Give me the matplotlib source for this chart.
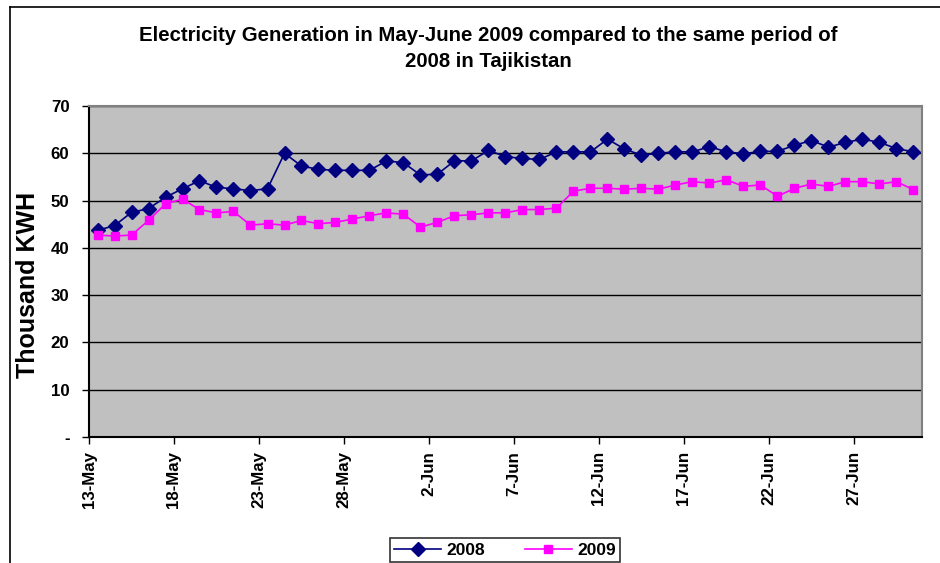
import numpy as np
import matplotlib
matplotlib.use("Agg")
import matplotlib.pyplot as plt
from matplotlib.lines import Line2D

plt.rcParams['font.family'] = ['Liberation Sans', 'DejaVu Sans']
plt.rcParams['font.weight'] = 'bold'

# one point per day, 13-May .. 30-Jun
days = ["13-May", "14-May", "15-May", "16-May", "17-May", "18-May", "19-May", "20-May",
        "21-May", "22-May", "23-May", "24-May", "25-May", "26-May", "27-May", "28-May",
        "29-May", "30-May", "31-May", "1-Jun", "2-Jun", "3-Jun", "4-Jun", "5-Jun",
        "6-Jun", "7-Jun", "8-Jun", "9-Jun", "10-Jun", "11-Jun", "12-Jun", "13-Jun",
        "14-Jun", "15-Jun", "16-Jun", "17-Jun", "18-Jun", "19-Jun", "20-Jun", "21-Jun",
        "22-Jun", "23-Jun", "24-Jun", "25-Jun", "26-Jun", "27-Jun", "28-Jun", "29-Jun",
        "30-Jun"]

gen_2008 = [43.7, 44.7, 47.5, 48.3, 50.7, 52.5, 54.2, 52.8, 52.5, 52.1,
            52.5, 60.0, 57.3, 56.6, 56.4, 56.4, 56.4, 58.4, 58.0, 55.4,
            55.6, 58.4, 58.4, 60.6, 59.3, 58.9, 58.7, 60.3, 60.3, 60.3,
            63.0, 60.9, 59.6, 60.0, 60.3, 60.3, 61.4, 60.3, 59.9, 60.4,
            60.4, 61.7, 62.7, 61.3, 62.3, 63.0, 62.3, 61.0, 60.3]

gen_2009 = [42.7, 42.5, 42.7, 45.8, 49.3, 50.3, 48.1, 47.4, 47.7, 44.8,
            45.1, 44.8, 45.8, 45.1, 45.4, 46.1, 46.8, 47.4, 47.1, 44.4,
            45.4, 46.8, 47.0, 47.4, 47.4, 48.1, 48.1, 48.4, 52.0, 52.6,
            52.6, 52.4, 52.6, 52.4, 53.3, 54.0, 53.7, 54.4, 53.0, 53.3,
            50.9, 52.6, 53.5, 53.0, 54.0, 54.0, 53.5, 54.0, 52.3]

y_ticks = [0, 10, 20, 30, 40, 50, 60, 70]
y_labels = ["-", "10", "20", "30", "40", "50", "60", "70"]

fig = plt.figure(figsize=(9.4, 5.63), dpi=100)
ax = fig.add_axes([89 / 940, 1 - 437 / 563, (922 - 89) / 940, (437 - 106) / 563])
ax.set_facecolor('#C0C0C0')

x = np.arange(len(days))
ax.plot(x, gen_2008, color='#000080', marker='D', markersize=7, linewidth=1.2, label='2008', zorder=3)
ax.plot(x, gen_2009, color='#FF00FF', marker='s', markersize=6, linewidth=1.2, label='2009', zorder=3)

ax.set_xlim(-0.5, len(days) - 0.5)
ax.set_ylim(0, 70)
ax.set_yticks(y_ticks)
ax.set_yticklabels(y_labels)
ax.set_xticks(x[::5] - 0.5)
ax.set_xticklabels(days[::5], rotation=90)
for lab in ax.get_xticklabels() + ax.get_yticklabels():
    lab.set_fontweight('bold')
    lab.set_fontsize(12.2)
ax.tick_params(axis='both', direction='out', length=5, width=1, colors='black')
ax.tick_params(axis='x', pad=5)
ax.tick_params(axis='y', pad=9)

ax.yaxis.grid(True, color='black', linewidth=1)
ax.set_axisbelow(True)
ax.spines['left'].set_color('black')
ax.spines['bottom'].set_color('black')
ax.spines['top'].set_color('#808080')
ax.spines['right'].set_color('#808080')
for s in ax.spines.values():
    s.set_linewidth(1.5)

fig.text(28.5 / 940, 1 - 285 / 563, "Thousand KWH", rotation=90, ha='center', va='center',
         fontsize=18, fontweight='bold')

fig.text(488 / 940, 1 - 48.5 / 563,
         "Electricity Generation in May-June 2009 compared to the same period of\n2008 in Tajikistan",
         ha='center', va='center', fontsize=14.7, fontweight='bold', linespacing=1.45)

leg = fig.legend(loc='center', bbox_to_anchor=(505 / 940, 1 - 550 / 563), ncol=2,
                 frameon=True, fancybox=False, edgecolor='black', fontsize=12.5,
                 handlelength=2.7, handletextpad=0.3, columnspacing=2.3, borderpad=0.25,
                 borderaxespad=0)
leg.get_frame().set_linewidth(1.2)
for t in leg.get_texts():
    t.set_fontweight('bold')

# chart border (cropped at right and bottom)
fig.add_artist(Line2D([10 / 940, 10 / 940], [0, 1 - 7 / 563], transform=fig.transFigure,
                      color='black', linewidth=1.2))
fig.add_artist(Line2D([10 / 940, 1], [1 - 7 / 563, 1 - 7 / 563], transform=fig.transFigure,
                      color='black', linewidth=1.2))

fig.savefig("out.png", dpi=100)
